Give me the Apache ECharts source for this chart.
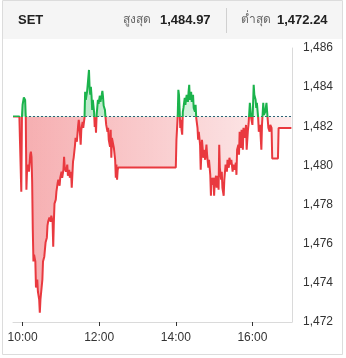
<!DOCTYPE html>
<html><head><meta charset="utf-8">
<script src="https://cdn.jsdelivr.net/npm/echarts@6/dist/echarts.min.js"></script>
<style>html,body{margin:0;padding:0;background:#fff}#c{width:346px;height:358px}</style>
</head><body><div id="c"></div>
<script>
// ---- header texts ----
const titleText = 'SET';
const highLabel = 'สูงสุด';
const highValue = '1,484.97';
const lowLabel = 'ต่ำสุด';
const lowValue = '1,472.24';

// ---- reference (previous close) ----
const prevClose = 1482.50;

// ---- axes ----
const xStart = '09:45';
const xEnd = '17:02';
const xTickLabels = ['10:00', '12:00', '14:00', '16:00'];
const yMin = 1472, yMax = 1486, yStep = 2;

// ---- series ----
const times = [
'09:45','09:55','09:56','09:58','09:59','10:00','10:02','10:04','10:05','10:06','10:07','10:09','10:10','10:12','10:13','10:14','10:15','10:16','10:17','10:18','10:20','10:21','10:23','10:24','10:26','10:27','10:28','10:30','10:31','10:32','10:34','10:35','10:36','10:38','10:39','10:40','10:42','10:44','10:45','10:47','10:48','10:49','10:50','10:52','10:53','10:55','10:56','10:58','10:59','11:01','11:02','11:04','11:05','11:06','11:08','11:10','11:11','11:13','11:14','11:16','11:17','11:19','11:20','11:22','11:23','11:25','11:27','11:28','11:29','11:31','11:32','11:34','11:35','11:37','11:38','11:39','11:41','11:42','11:44','11:45','11:46','11:47','11:48','11:49','11:50','11:52','11:53','11:54','11:55','11:56','11:58','11:59','12:01','12:02','12:04','12:05','12:06','12:07','12:09','12:10','12:11','12:13','12:14','12:15','12:17','12:18','12:19','12:20','12:22','12:23','12:25','12:26','12:27','12:28','12:29','12:30',
'14:00','14:01','14:02','14:03','14:04','14:05','14:06','14:07','14:08','14:09','14:10','14:11','14:12','14:14','14:15','14:17','14:19','14:20','14:21','14:22','14:24','14:25','14:27','14:28','14:30','14:31','14:32','14:34','14:35','14:36','14:38','14:39','14:41','14:42','14:43','14:44','14:46','14:48','14:49','14:51','14:52','14:54','14:55','14:56','14:57','14:59','15:00','15:01','15:03','15:04','15:06','15:07','15:08','15:09','15:11','15:12','15:13','15:15','15:16','15:18','15:20','15:21','15:23','15:24','15:26','15:27','15:29','15:30','15:32','15:34','15:35','15:36','15:38','15:39','15:40','15:42','15:43','15:45','15:46','15:48','15:50','15:51','15:53','15:54','15:56','15:58','16:00','16:01','16:02','16:03','16:05','16:06','16:07','16:09','16:10','16:12','16:14','16:15','16:17','16:18','16:20','16:22','16:24','16:25','16:27','16:28','16:30','16:31','16:40','16:41','17:01'
];
const values = [
1482.50,1482.50,1481.16,1478.66,1482.50,1483.10,1483.47,1483.35,1482.49,1478.76,1479.78,1480.04,1479.68,1480.55,1480.70,1480.44,1479.16,1476.72,1475.09,1475.44,1475.09,1473.76,1474.17,1473.56,1473.15,1472.48,1473.15,1473.25,1474.17,1475.09,1475.34,1475.44,1476.06,1476.31,1476.92,1477.13,1477.33,1477.13,1477.43,1477.13,1475.85,1477.13,1478.05,1478.25,1478.66,1479.12,1479.27,1478.96,1479.37,1479.68,1479.37,1479.78,1480.44,1479.88,1479.68,1480.04,1479.47,1479.78,1479.37,1479.68,1478.86,1480.19,1480.39,1481.00,1481.41,1481.21,1482.02,1482.33,1482.07,1481.06,1481.82,1482.23,1481.92,1482.43,1483.76,1483.35,1483.76,1484.12,1484.88,1483.96,1483.61,1484.01,1483.56,1482.84,1483.35,1482.74,1481.97,1482.43,1481.67,1482.58,1483.35,1483.15,1483.56,1483.25,1483.61,1483.81,1483.51,1483.05,1482.84,1482.43,1482.07,1481.72,1481.92,1481.31,1480.95,1481.82,1480.39,1481.41,1481.31,1480.90,1480.29,1479.37,1480.04,1479.27,1479.78,1479.90,
1479.90,1481.31,1481.92,1482.53,1483.86,1483.61,1482.84,1481.92,1482.33,1481.82,1481.57,1482.74,1482.94,1483.45,1483.10,1483.61,1483.25,1483.76,1484.12,1483.35,1483.76,1483.25,1483.61,1482.94,1482.74,1483.10,1482.43,1481.92,1481.31,1481.72,1481.06,1479.78,1481.31,1480.90,1480.39,1480.80,1480.29,1481.06,1480.55,1479.88,1480.29,1479.52,1478.45,1479.37,1479.01,1479.37,1478.45,1479.16,1479.47,1478.86,1479.47,1478.76,1481.06,1479.88,1479.27,1479.68,1478.86,1478.45,1479.27,1480.04,1479.68,1480.29,1479.88,1480.39,1480.04,1480.29,1479.68,1480.04,1479.78,1480.14,1479.52,1480.80,1481.06,1480.55,1481.72,1480.90,1481.82,1480.80,1481.92,1481.41,1482.07,1480.80,1481.82,1482.12,1483.20,1482.43,1482.07,1483.10,1484.12,1483.61,1483.35,1482.94,1483.20,1482.43,1481.72,1482.07,1480.80,1482.07,1483.20,1482.58,1482.74,1483.20,1482.33,1481.92,1481.72,1482.07,1481.92,1480.36,1480.36,1481.91,1481.91
];

// ---- build ----
function toMin(s) { const p = s.split(':'); return (+p[0]) * 60 + (+p[1]); }
function fmtMin(m) { const h = Math.floor(m / 60), mm = m % 60; return String(h).padStart(2, '0') + ':' + String(mm).padStart(2, '0'); }
const seriesData = times.map((t, i) => [toMin(t), values[i]]);
const tickMins = xTickLabels.map(toMin);

const RED = '#e9393f', GREEN = '#1bb34c';
const RED_FILL = 'rgba(233,57,63,0.42)', GREEN_FILL = 'rgba(27,179,76,0.36)';
const G = { left: 13, right: 54, top: 48, bottom: 36 };
const W = 346, H = 358;
const FONT = 'Liberation Sans, Arial, sans-serif';

const chart = echarts.init(document.getElementById('c'), null, { renderer: 'canvas' });
chart.setOption({
  animation: false,
  backgroundColor: '#fff',
  grid: G,
  xAxis: {
    type: 'value', min: toMin(xStart), max: toMin(xEnd),
    axisLine: { show: true, lineStyle: { color: '#dadada', width: 1 } },
    axisTick: { show: true, length: 4, customValues: tickMins, lineStyle: { color: '#333' } },
    axisLabel: { customValues: tickMins, formatter: v => fmtMin(v), color: '#333', fontSize: 12, fontFamily: FONT, margin: 10 },
    splitLine: { show: false }
  },
  yAxis: {
    type: 'value', position: 'right', min: yMin, max: yMax, interval: yStep,
    axisLine: { show: true, lineStyle: { color: '#dadada', width: 1 } },
    axisTick: { show: false },
    axisLabel: { formatter: v => v.toLocaleString('en-US'), color: '#333', fontSize: 12, fontFamily: FONT, margin: 11 },
    splitLine: { show: false }
  },
  visualMap: [
    {
      show: false, type: 'piecewise', dimension: 1, seriesIndex: 1,
      pieces: [
        { gt: yMin - 100, lte: prevClose, color: RED },
        { gt: prevClose, lte: yMax + 100, color: GREEN }
      ],
      outOfRange: { color: RED }
    },
    {
      show: false, type: 'piecewise', dimension: 1, seriesIndex: 0,
      pieces: [
        { gt: yMin - 100, lte: prevClose, color: RED_FILL },
        { gt: prevClose, lte: yMax + 100, color: GREEN_FILL }
      ],
      outOfRange: { color: RED_FILL }
    }
  ],
  series: [
    {
      type: 'line', data: seriesData, symbol: 'none', z: 1, silent: true,
      lineStyle: { width: 0 },
      areaStyle: { origin: prevClose, opacity: 1 }
    },
    {
      type: 'line', data: seriesData, symbol: 'none', z: 5,
      lineStyle: { width: 2 },
      markLine: {
        silent: true, symbol: 'none', label: { show: false },
        lineStyle: { color: '#2e6277', type: [2, 2], width: 1 },
        data: [{ yAxis: prevClose }]
      }
    }
  ],
  graphic: [
    { type: 'rect', z: 3, silent: true,
      shape: { x: G.left, y: G.top, width: W - G.left - G.right, height: H - G.top - G.bottom - 1 },
      style: { fill: new echarts.graphic.LinearGradient(0, 0, 1, 0, [
        { offset: 0, color: 'rgba(255,255,255,0)' },
        { offset: 1, color: 'rgba(255,255,255,0.78)' }]) } },
    { type: 'rect', z: 0, silent: true, shape: { x: 3, y: 1, width: 339, height: 38 }, style: { fill: '#f5f5f5' } },
    { type: 'rect', z: 10, silent: true, shape: { x: 2.5, y: 0.5, width: 340, height: 354 }, style: { fill: 'none', stroke: '#dcdcdc', lineWidth: 1 } },
    { type: 'text', z: 10, x: 18, y: 20, style: { text: titleText, font: 'bold 13px ' + FONT, fill: '#222', textVerticalAlign: 'middle' } },
    { type: 'text', z: 10, x: 123, y: 20, style: { text: highLabel, font: '12px Noto Sans, sans-serif', fill: '#666', textVerticalAlign: 'middle' } },
    { type: 'text', z: 10, x: 160, y: 20, style: { text: highValue, font: 'bold 13px ' + FONT, fill: '#222', textVerticalAlign: 'middle' } },
    { type: 'line', z: 10, silent: true, shape: { x1: 226.5, y1: 8, x2: 226.5, y2: 33 }, style: { stroke: '#d0d0d0', lineWidth: 1 } },
    { type: 'text', z: 10, x: 241, y: 20, style: { text: lowLabel, font: '12px Noto Sans, sans-serif', fill: '#666', textVerticalAlign: 'middle' } },
    { type: 'text', z: 10, x: 277, y: 20, style: { text: lowValue, font: 'bold 13px ' + FONT, fill: '#222', textVerticalAlign: 'middle' } }
  ]
});
</script></body></html>
